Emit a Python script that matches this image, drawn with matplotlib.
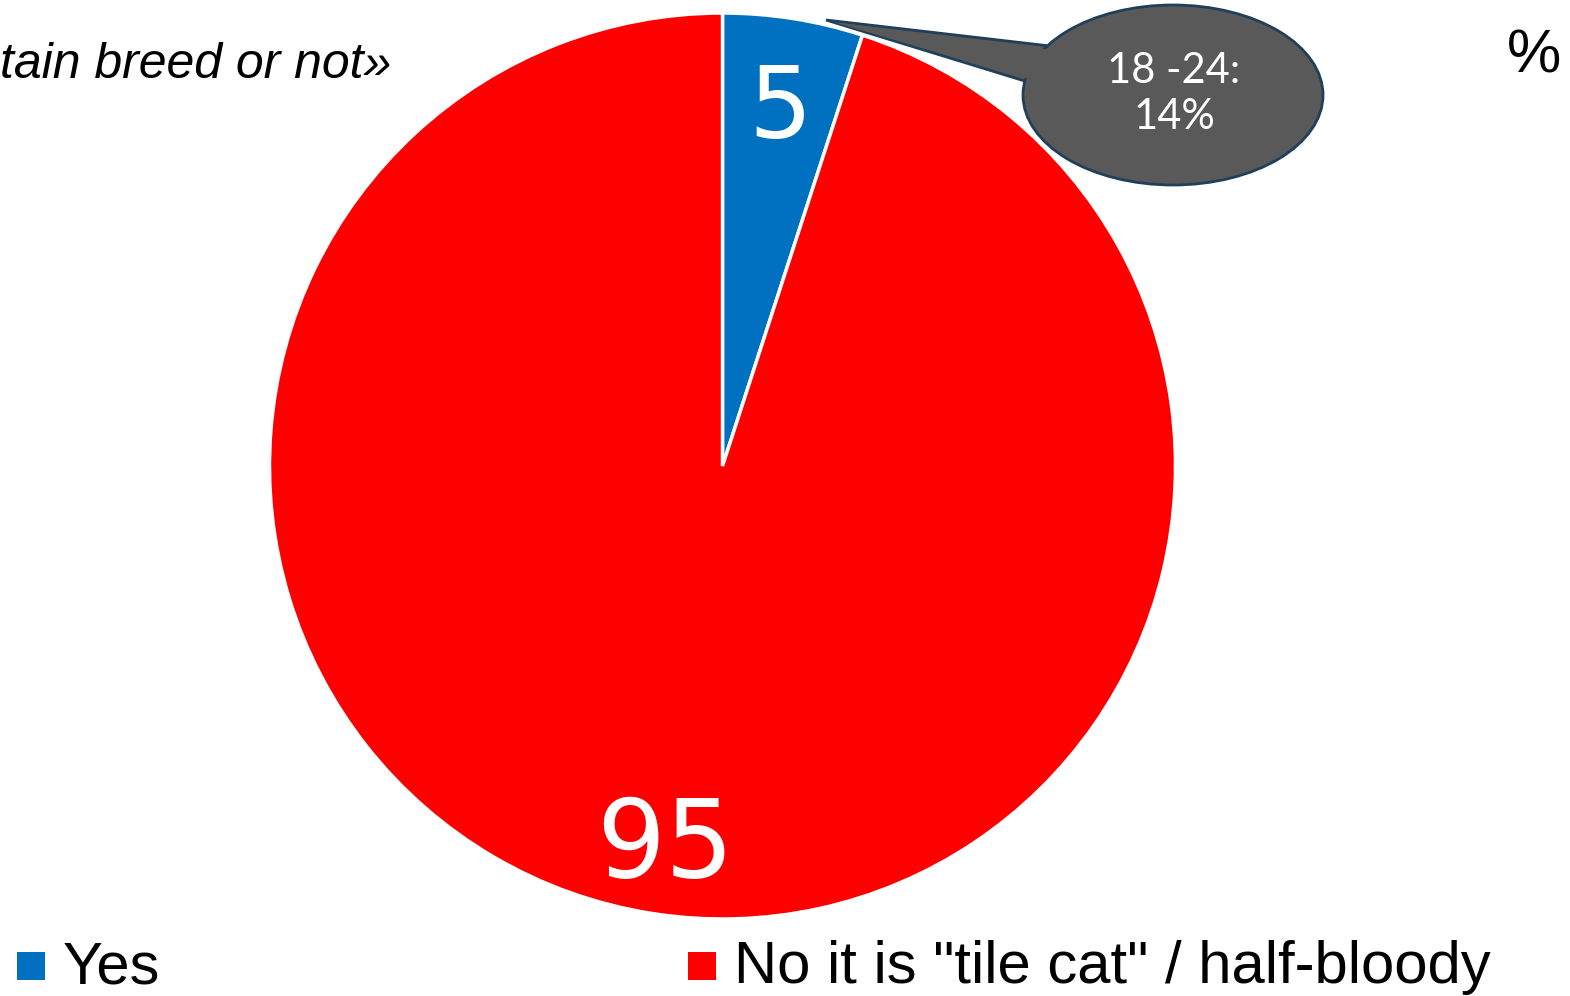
import matplotlib
matplotlib.use("Agg")
import matplotlib.pyplot as plt
from matplotlib.patches import Ellipse, Polygon, Rectangle

# Data
labels = ["Yes", 'No it is "tile cat" / half-bloody']
values = [5, 95]
colors = ["#0070C0", "#FF0000"]
title_text = "tain breed or not»"
callout_text = "18 -24:\n14%"

W, H = 1570, 996
fig = plt.figure(figsize=(W / 100, H / 100), dpi=100)
ax = fig.add_axes([0, 0, 1, 1])

cx, cy, r = 722.5, H - 466, 453
wedges, _ = ax.pie(
    values,
    colors=colors,
    startangle=90,
    counterclock=False,
    center=(cx, cy),
    radius=r,
    wedgeprops=dict(edgecolor="white", linewidth=2.5),
)
ax.set_xlim(0, W)
ax.set_ylim(0, H)
ax.set_aspect("auto")
ax.axis("off")

# value labels
ax.text(780, H - 138, str(values[0]), color="white", fontsize=72,
        family="DejaVu Sans", ha="center", va="baseline")
ax.text(665, H - 877, str(values[1]), color="white", fontsize=78,
        family="DejaVu Sans", ha="center", va="baseline")

# speech-bubble callout
tail = Polygon([(1050, H - 46), (826, H - 20), (1028, H - 82)], closed=True,
               facecolor="#595959", edgecolor="#1F3F5A", linewidth=2, zorder=3)
ax.add_patch(tail)
bubble = Ellipse((1173, H - 95), 300, 180, facecolor="#595959",
                 edgecolor="#1F3F5A", linewidth=2, zorder=4)
ax.add_patch(bubble)
tail_fill = Polygon([(1052, H - 50), (833, H - 22), (1032, H - 80)], closed=True,
                    facecolor="#595959", edgecolor="none", zorder=5)
ax.add_patch(tail_fill)
ax.text(1174, H - 94, callout_text, color="white", fontsize=30, family="Lato",
        ha="center", va="center", linespacing=1.25, zorder=6)

# clipped title and unit
ax.text(0, H - 78, title_text, fontsize=36, style="italic",
        family="Liberation Sans", ha="left", va="baseline")
ax.text(1561, H - 72, "%", fontsize=44, family="Liberation Sans",
        ha="right", va="baseline")

# legend
for x0, lab, col in [(17, labels[0], colors[0]), (688, labels[1], colors[1])]:
    ax.add_patch(Rectangle((x0, H - 980), 28, 28, facecolor=col, edgecolor="none"))
    ax.text(x0 + 46, H - 983, lab, fontsize=43, family="Liberation Sans",
            ha="left", va="baseline")

fig.savefig("out.png", dpi=100)
